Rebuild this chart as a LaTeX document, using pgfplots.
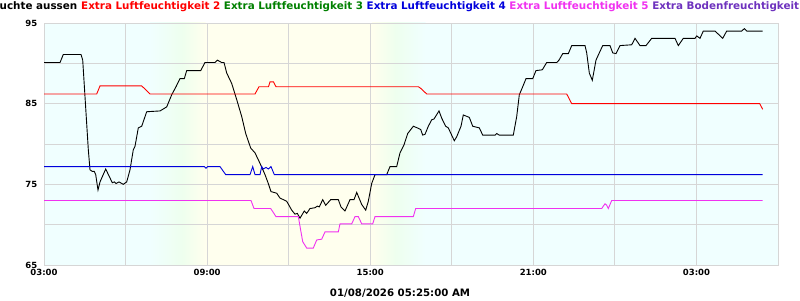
\documentclass[border=0pt]{standalone}
\usepackage{pgfplots}
\pgfplotsset{compat=1.18}
\usepackage{fontspec}
\setmainfont{DejaVu Sans}
\definecolor{bgcyan}{RGB}{240,255,255}
\definecolor{bgyel}{RGB}{255,255,238}
\definecolor{bggreen}{RGB}{238,255,238}
\definecolor{gridc}{RGB}{214,214,214}
\definecolor{cred}{RGB}{255,0,0}
\definecolor{cgreen}{RGB}{0,128,0}
\definecolor{cblue}{RGB}{0,0,220}
\definecolor{cmag}{RGB}{240,50,240}
\definecolor{cpurp}{RGB}{110,50,190}
\begin{document}
\begin{tikzpicture}[x=1pt,y=1pt]
\useasboundingbox (0,0) rectangle (800,300);
\fill[white] (0,0) rectangle (800,300);
\fill[bgcyan] (44,35) rectangle (150.5,277);
\shade[left color=bgcyan,right color=bggreen] (150,35) rectangle (182.5,277);
\shade[left color=bggreen,right color=bgyel] (182,35) rectangle (205.5,277);
\fill[bgyel] (205,35) rectangle (372.5,277);
\shade[left color=bgyel,right color=bggreen] (372,35) rectangle (395.5,277);
\shade[left color=bggreen,right color=bgcyan] (395,35) rectangle (425.5,277);
\fill[bgcyan] (425,35) rectangle (778,277);
\begin{axis}[at={(44pt,35pt)}, anchor=south west, scale only axis,
  width=734pt, height=242pt,
  xmin=0, xmax=27, ymin=65, ymax=95,
  xtick={0,6,12,18,24}, xticklabels={03:00,09:00,15:00,21:00,03:00},
  minor xtick={3,9,15,21},
  ytick={65,75,85,95}, minor ytick={70,80,90},
  grid=both,
  major grid style={gridc, line width=1pt},
  minor grid style={gridc, line width=1pt},
  axis line style={gridc, line width=1pt},
  major tick length=0pt, minor tick length=0pt,
  /pgf/number format/assume math mode=true,
  ticklabel style={font=\bfseries\fontsize{8.5}{10}\selectfont},
  xticklabel style={inner sep=0pt, yshift=-4pt},
  yticklabel style={inner sep=0pt, xshift=-6.5pt},
]
% Luftfeuchte aussen
\addplot[black, line width=0.9pt] coordinates {
(0,90.1)(0.59,90.1)(0.71,91.1)(1.361,91.1)(1.424,90.4)(1.63,79.3)(1.692,76.8)(1.777,76.6)(1.85,76.6)(1.902,76.2)
(1.986,74.3)(2.06,75.3)(2.27,76.9)(2.512,75.2)(2.586,75.3)(2.649,75.1)(2.759,75.3)(2.917,75.0)(3.042,75.3)(3.164,76.8)
(3.285,79.3)(3.347,79.7)(3.469,82.0)(3.594,82.2)(3.778,84.0)(4.267,84.1)(4.514,84.6)(4.697,86.1)(4.856,87.1)(5.003,88.1)
(5.161,88.1)(5.249,89.1)(5.764,89.1)(5.922,90.1)(6.29,90.1)(6.375,90.4)(6.537,90.1)(6.622,90.1)(6.721,88.8)(6.905,87.5)
(7.089,85.5)(7.273,83.4)(7.42,81.3)(7.603,79.5)(7.762,78.9)(7.946,77.6)(8.13,76.2)(8.251,75.1)(8.35,74.1)(8.56,73.9)
(8.681,73.3)(8.928,72.9)(9.112,71.8)(9.233,71.3)(9.318,71.4)(9.417,70.8)(9.575,71.7)(9.663,71.4)(9.785,72.0)(9.969,72.1)
(10.053,72.3)(10.127,72.2)(10.252,73.1)(10.362,72.4)(10.546,73.1)(10.826,73.1)(10.925,72.2)(11.072,71.7)(11.256,73.1)(11.403,73.1)
(11.503,74.0)(11.687,72.5)(11.834,71.8)(11.93,72.9)(12.054,75.1)(12.176,76.2)(12.606,76.2)(12.728,77.2)(12.974,77.2)(13.095,78.9)
(13.243,79.9)(13.379,81.3)(13.585,82.2)(13.732,82.0)(13.857,81.8)(13.93,81.1)(14.015,81.2)(14.137,82.2)(14.262,83.0)(14.346,83.1)
(14.53,84.1)(14.63,83.2)(14.777,82.2)(14.872,82.0)(15.093,80.4)(15.181,80.9)(15.339,82.2)(15.424,83.6)(15.645,83.3)(15.77,82.2)
(16.013,82.0)(16.138,81.1)(16.59,81.1)(16.653,81.3)(16.748,81.1)(17.263,81.1)(17.388,83.4)(17.484,86.1)(17.609,87.1)(17.73,88.1)
(17.977,88.1)(18.098,89.1)(18.33,89.2)(18.492,90.1)(18.86,90.1)(18.944,90.4)(19.081,91.2)(19.287,91.2)(19.412,92.2)(19.901,92.2)
(19.963,91.3)(20.059,88.8)(20.169,87.9)(20.305,90.4)(20.427,91.3)(20.552,92.2)(20.82,92.2)(20.92,91.3)(21.041,91.2)(21.188,92.2)
(21.619,92.3)(21.74,93.1)(21.924,92.2)(22.145,92.2)(22.354,93.1)(23.211,93.1)(23.333,92.2)(23.517,93.1)(23.947,93.1)(24.01,93.4)
(24.131,93.1)(24.252,94.0)(24.683,94.0)(24.966,93.1)(25.113,94.0)(25.665,94.0)(25.76,94.3)(25.849,94.0)(26.437,94.0)
};
% Extra Luftfeuchtigkeit 2
\addplot[cred, line width=0.9pt] coordinates {
(0,86.2)(1.939,86.2)(2.06,87.2)(3.594,87.2)(3.752,86.7)(3.837,86.4)(3.899,86.2)(7.762,86.2)(7.909,87.1)(8.258,87.1)
(8.313,87.7)(8.442,87.7)(8.534,87.1)(13.769,87.1)(13.857,86.9)(14.078,86.2)(19.228,86.2)(19.412,85.0)(26.327,85.0)(26.437,84.3)
};
% Extra Luftfeuchtigkeit 4
\addplot[cblue, line width=0.9pt] coordinates {
(0,77.2)(5.9,77.2)(5.96,77.0)(6.02,77.2)(6.474,77.2)(6.684,76.2)(7.578,76.2)(7.677,77.2)(7.762,76.2)(7.946,76.2)
(8.008,77.2)(8.067,76.9)(8.166,77.1)(8.251,76.9)(8.35,77.2)(8.472,76.2)(26.437,76.2)
};
% Extra Luftfeuchtigkeit 5
\addplot[cmag, line width=0.9pt] coordinates {
(0,73.0)(7.614,73.0)(7.725,72.0)(8.339,72.0)(8.534,71.0)(9.355,71.0)(9.443,69.3)(9.516,67.9)(9.663,67.1)(9.906,67.1)
(10.031,68.1)(10.215,68.2)(10.337,69.1)(10.826,69.1)(10.888,70.1)(11.319,70.1)(11.44,71.0)(11.562,71.0)(11.687,70.1)(12.091,70.1)
(12.176,71.0)(13.585,71.0)(13.673,72.0)(20.515,72.0)(20.637,72.6)(20.699,72.4)(20.758,72.0)(20.883,73.0)(26.437,73.0)
};
\end{axis}
\node[anchor=base east, inner sep=0pt, font=\bfseries\fontsize{10.36}{12}\selectfont] at (77.5,290.7) {Luftfeuchte aussen};
\node[anchor=base west, inner sep=0pt, font=\bfseries\fontsize{10.36}{12}\selectfont] at (81,290.7) {\textcolor{cred}{Extra Luftfeuchtigkeit 2} \textcolor{cgreen}{Extra Luftfeuchtigkeit 3} \textcolor{cblue}{Extra Luftfeuchtigkeit 4} \textcolor{cmag}{Extra Luftfeuchtigkeit 5} \textcolor{cpurp}{Extra Bodenfreuchtigkeit 1}};
\node[anchor=base, inner sep=0pt, font=\bfseries\fontsize{10.2}{12}\selectfont] at (400,4) {01/08/2026 05:25:00 AM};
\end{tikzpicture}
\end{document}
